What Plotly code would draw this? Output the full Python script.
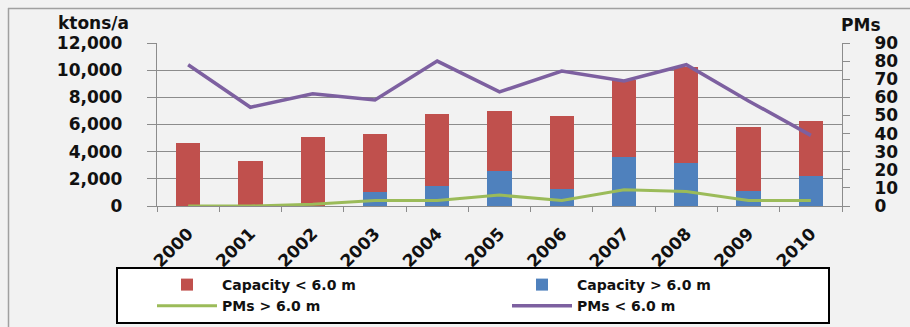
import plotly.graph_objects as go

years = ["2000", "2001", "2002", "2003", "2004", "2005", "2006", "2007", "2008", "2009", "2010"]
cap_small = [4650, 3300, 5100, 4320, 5250, 4420, 5350, 5680, 7050, 4710, 4080]   # Capacity < 6.0 m (red, top)
cap_large = [0, 0, 0, 1000, 1500, 2600, 1250, 3600, 3200, 1130, 2200]          # Capacity > 6.0 m (blue, bottom)
pms_large = [0, 0, 1, 3, 3, 6, 3, 9, 8, 3, 3]                                   # PMs > 6.0 m
pms_small = [78, 54.5, 62, 58.5, 80, 63, 74.5, 69, 78, 58, 39]                 # PMs < 6.0 m

W, H = 910, 327
L, R, T, B = 157, 68, 43, 121
PW, PH = W - L - R, H - T - B

def px(x):
    return (x - L) / PW

def py(y):
    return (H - B - y) / PH

FONT = "DejaVu Sans"
PAD = "\u00a0\u00a0\u00a0\u2009"

fig = go.Figure()
fig.add_trace(go.Bar(x=years, y=cap_large, name="Capacity > 6.0 m", marker_color="#4F81BD",
                     marker_line_width=0, legendrank=2))
fig.add_trace(go.Bar(x=years, y=cap_small, name="Capacity < 6.0 m", marker_color="#C0504D",
                     marker_line_width=0, legendrank=1))
fig.add_trace(go.Scatter(x=years, y=pms_large, name="PMs > 6.0 m", mode="lines", yaxis="y2",
                         line=dict(color="#9BBB59", width=3), legendrank=3))
fig.add_trace(go.Scatter(x=years, y=pms_small, name="PMs < 6.0 m", mode="lines", yaxis="y2",
                         line=dict(color="#7D60A0", width=3.5), legendrank=4))

fig.update_layout(
    width=W, height=H,
    margin=dict(l=L, r=R, t=T, b=B, pad=0, autoexpand=False),
    paper_bgcolor="#F2F2F2", plot_bgcolor="#F2F2F2",
    barmode="stack", bargap=0.61,
    font=dict(family=FONT, size=17, color="#111111", weight="bold"),
    xaxis=dict(showline=True, linecolor="#8C8C8C", linewidth=1, ticks="outside", tickson="boundaries",
               ticklen=5, tickcolor="#8C8C8C", tickangle=-45, ticklabelstandoff=10,
               tickfont=dict(size=17), showgrid=False),
    yaxis=dict(range=[0, 12000], dtick=2000, tickformat=",", ticksuffix=PAD, showline=True,
               linecolor="#8C8C8C", ticks="outside", ticklen=9, tickcolor="#8C8C8C",
               gridcolor="#8C8C8C", gridwidth=1, zeroline=False, tickfont=dict(size=17)),
    yaxis2=dict(range=[0, 90], dtick=10, tickprefix=PAD, overlaying="y", side="right", showline=True,
                linecolor="#8C8C8C", ticks="outside", ticklen=7, tickcolor="#8C8C8C",
                showgrid=False, zeroline=False, tickfont=dict(size=17)),
    legend=dict(orientation="h", x=px(116), y=py(267), xanchor="left", yanchor="top",
                bgcolor="#FFFFFF", bordercolor="#000000", borderwidth=2, traceorder="normal",
                entrywidth=246, entrywidthmode="pixels", itemwidth=60, indentation=34,
                font=dict(size=14, family=FONT, weight="bold"), tracegroupgap=0),
    annotations=[
        dict(text="ktons/a", x=px(93), y=py(23), xref="paper", yref="paper", showarrow=False,
             xanchor="center", yanchor="middle",
             font=dict(size=17, family=FONT, weight="bold")),
        dict(text="PMs", x=px(861), y=py(25), xref="paper", yref="paper", showarrow=False,
             xanchor="center", yanchor="middle",
             font=dict(size=17, family=FONT, weight="bold")),
    ],
    shapes=[
        dict(type="line", xref="paper", yref="paper", x0=px(8), x1=px(912), y0=py(8.5), y1=py(8.5),
             line=dict(color="#A0A0A0", width=1.5)),
        dict(type="line", xref="paper", yref="paper", x0=px(8.5), x1=px(8.5), y0=py(8), y1=py(330),
             line=dict(color="#A0A0A0", width=1.5)),
    ],
)

fig.write_html("out.html")
